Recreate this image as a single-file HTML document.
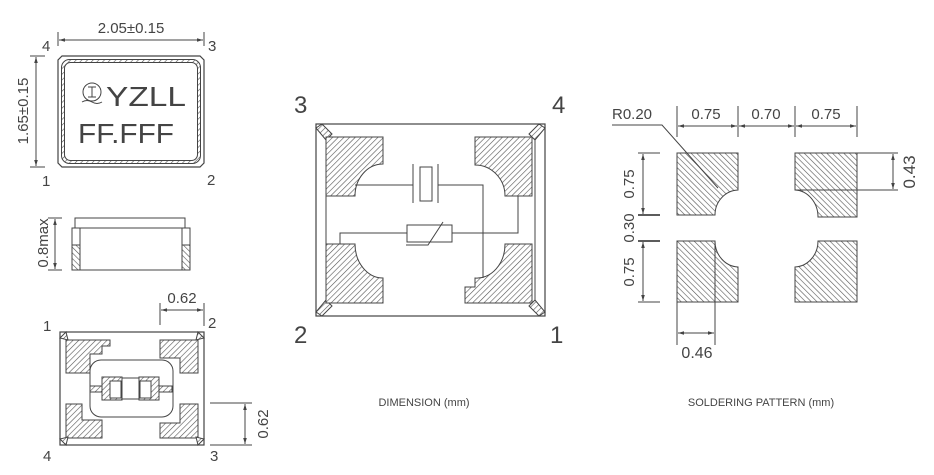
<!DOCTYPE html>
<html><head><meta charset="utf-8"><style>
html,body{margin:0;padding:0;background:#fff;}
svg{display:block;}
text{font-family:"Liberation Sans","DejaVu Sans",sans-serif;fill:#444;}
</style></head><body>
<svg width="934" height="475" viewBox="0 0 934 475" xmlns="http://www.w3.org/2000/svg">
<defs>
<pattern id="h" patternUnits="userSpaceOnUse" width="4" height="4" patternTransform="rotate(45)">
<rect width="4" height="4" fill="#fff"/><line x1="0" y1="0" x2="0" y2="4" stroke="#555" stroke-width="1.2"/></pattern>
<pattern id="h2" patternUnits="userSpaceOnUse" width="4" height="4" patternTransform="rotate(-45)">
<rect width="4" height="4" fill="#fff"/><line x1="0" y1="0" x2="0" y2="4" stroke="#555" stroke-width="1.2"/></pattern>
<marker id="a" viewBox="0 0 10 10" refX="10" refY="5" markerWidth="6" markerHeight="6" orient="auto-start-reverse"><path d="M0,2 L10,5 L0,8" fill="#444"/></marker>
</defs>
<g stroke="#444" stroke-width="1" fill="none">

<!-- TOP VIEW -->
<line x1="58" y1="32" x2="58" y2="46"/><line x1="204" y1="32" x2="204" y2="46"/>
<line x1="59" y1="40" x2="203" y2="40" marker-start="url(#a)" marker-end="url(#a)"/>
<line x1="30" y1="56" x2="45" y2="56"/><line x1="30" y1="167" x2="45" y2="167"/>
<line x1="36" y1="57" x2="36" y2="166" marker-start="url(#a)" marker-end="url(#a)"/>
<path d="M62,56 H200 L204,60 V163 L200,167 H62 L58,163 V60 Z" stroke-width="1.2"/>
<rect x="61.5" y="59.5" width="139" height="104" rx="8" fill="url(#h)" stroke="#444"/>
<rect x="64.5" y="62.5" width="133" height="98" rx="6" fill="#fff"/>
<circle cx="92" cy="92" r="9"/>
<path d="M88,87 H96 M92,87 V97 M88,97 H96 M82,102 Q87,99 92,102 T102,102" />

<!-- SIDE VIEW -->
<line x1="48" y1="218" x2="62" y2="218"/><line x1="48" y1="270" x2="62" y2="270"/>
<line x1="55" y1="219" x2="55" y2="269" marker-start="url(#a)" marker-end="url(#a)"/>
<rect x="75" y="218" width="110" height="10"/>
<rect x="72" y="228" width="118" height="42"/>
<rect x="72" y="245" width="8" height="25" fill="url(#h2)"/>
<rect x="182" y="245" width="8" height="25" fill="url(#h2)"/>
<line x1="80" y1="228" x2="80" y2="270"/><line x1="182" y1="228" x2="182" y2="270"/>

<!-- BOTTOM VIEW -->
<line x1="160" y1="303" x2="160" y2="325"/><line x1="204" y1="303" x2="204" y2="326"/>
<line x1="161" y1="310" x2="203" y2="310" marker-start="url(#a)" marker-end="url(#a)"/>
<line x1="210" y1="403" x2="252" y2="403"/><line x1="210" y1="445" x2="252" y2="445"/>
<line x1="245" y1="404" x2="245" y2="444" marker-start="url(#a)" marker-end="url(#a)"/>
<rect x="60" y="332" width="144" height="113" stroke-width="1.2"/>
<path d="M66,340 H110 V346 H102 V354 H90 V373 H66 Z" fill="url(#h)"/>
<path d="M160,340 H198 V373 H180 V358 H160 Z" fill="url(#h)"/>
<path d="M66,404 H82 V420 H102 V438 H66 Z" fill="url(#h)"/>
<path d="M180,404 H198 V438 H160 V423 H180 Z" fill="url(#h)"/>
<path d="M60,338 L66,332 L68,340 Z M204,338 L198,332 L196,340 Z M60,439 L66,445 L68,437 Z M204,439 L198,445 L196,437 Z" fill="url(#h)"/>
<rect x="90" y="360" width="83" height="57" rx="11"/>
<rect x="102" y="377" width="20" height="23" fill="url(#h)"/>
<rect x="139" y="377" width="20" height="23" fill="url(#h)"/>
<rect x="110" y="381" width="11" height="17" fill="#fff"/>
<rect x="140" y="381" width="11" height="17" fill="#fff"/>
<rect x="90" y="386" width="12" height="6" fill="url(#h)"/>
<rect x="159" y="386" width="13" height="6" fill="url(#h)"/>
<line x1="122" y1="378" x2="139" y2="378"/><line x1="122" y1="399" x2="139" y2="399"/>

<!-- DIMENSION -->
<rect x="316" y="124" width="229" height="192" stroke-width="1.2"/>
<line x1="326" y1="136" x2="326" y2="303"/><line x1="535" y1="136" x2="535" y2="303"/>
<path d="M316,128 L322,124 L332,134 L326,140 Z M545,128 L539,124 L529,134 L535,140 Z M316,312 L322,316 L332,306 L326,300 Z M545,312 L539,316 L529,306 L535,300 Z" fill="url(#h)"/>
<path d="M326,137 H383 V164 A28,32 0 0 0 355,196 H326 Z" fill="url(#h)"/>
<path d="M475,137 H532 V196 H505 A30,31 0 0 0 475,165 Z" fill="url(#h)"/>
<path d="M326,244 H355 A28,34 0 0 0 383,278 V303 H326 Z" fill="url(#h)"/>
<path d="M505,244 H532 V303 H465 V287 H475 V278 A28,34 0 0 0 505,244 Z" fill="url(#h)"/>
<line x1="413" y1="164" x2="413" y2="203"/><line x1="438" y1="164" x2="438" y2="203"/>
<rect x="420" y="167" width="12" height="34"/>
<path d="M355,185 H413 M438,185 H483 V278"/>
<rect x="407" y="225" width="45" height="17"/>
<path d="M340,244 V233 H407 M452,233 H518 V196"/>
<path d="M406,245 H428 L443,222"/>

<!-- SOLDERING -->
<line x1="677" y1="106" x2="677" y2="137"/><line x1="738" y1="106" x2="738" y2="137"/>
<line x1="795" y1="106" x2="795" y2="137"/><line x1="857" y1="106" x2="857" y2="137"/>
<line x1="678" y1="126" x2="737" y2="126" marker-start="url(#a)" marker-end="url(#a)"/>
<line x1="739" y1="126" x2="794" y2="126" marker-start="url(#a)" marker-end="url(#a)"/>
<line x1="796" y1="126" x2="856" y2="126" marker-start="url(#a)" marker-end="url(#a)"/>
<path d="M677,153 H738 V190 A24,25 0 0 0 715,215 H677 Z" fill="url(#h2)"/>
<path d="M795,153 H857 V217 H818 A24,27 0 0 0 795,190 Z" fill="url(#h2)"/>
<path d="M677,241 H715 A24,26 0 0 0 738,267 V302 H677 Z" fill="url(#h2)"/>
<path d="M818,241 H857 V302 H795 V267 A24,26 0 0 0 818,241 Z" fill="url(#h2)"/>
<line x1="715" y1="241" x2="715" y2="345"/><line x1="677" y1="302" x2="677" y2="345"/>
<line x1="678" y1="333" x2="714" y2="333" marker-start="url(#a)" marker-end="url(#a)"/>
<path d="M612,125 H662 L718,188"/>
<line x1="638" y1="153" x2="660" y2="153"/><line x1="638" y1="302" x2="660" y2="302"/>
<line x1="638" y1="215" x2="660" y2="215" stroke-width="1.8"/><line x1="638" y1="241" x2="660" y2="241" stroke-width="1.8"/>
<line x1="643" y1="154" x2="643" y2="214" marker-start="url(#a)" marker-end="url(#a)"/>
<line x1="643" y1="242" x2="643" y2="301" marker-start="url(#a)" marker-end="url(#a)"/>
<line x1="795" y1="190" x2="898" y2="190"/><line x1="857" y1="153" x2="898" y2="153"/>
<line x1="893" y1="154" x2="893" y2="189" marker-start="url(#a)" marker-end="url(#a)"/>
</g>

<g font-size="15">
<text x="131" y="33" text-anchor="middle">2.05±0.15</text>
<text x="42" y="51">4</text><text x="208" y="51">3</text>
<text x="42" y="186">1</text><text x="207" y="185">2</text>
<text transform="translate(28,111) rotate(-90)" text-anchor="middle">1.65±0.15</text>
<text transform="translate(48,243) rotate(-90)" text-anchor="middle">0.8max</text>
<text x="182" y="303" text-anchor="middle">0.62</text>
<text x="43" y="331">1</text><text x="208" y="328">2</text>
<text x="43" y="461">4</text><text x="210" y="461">3</text>
<text transform="translate(268,424) rotate(-90)" text-anchor="middle">0.62</text>
<text x="706" y="119" text-anchor="middle">0.75</text>
<text x="766" y="119" text-anchor="middle">0.70</text>
<text x="826" y="119" text-anchor="middle">0.75</text>
<text x="632" y="119" text-anchor="middle">R0.20</text>
<text transform="translate(634,184) rotate(-90)" text-anchor="middle">0.75</text>
<text transform="translate(634,228) rotate(-90)" text-anchor="middle">0.30</text>
<text transform="translate(634,272) rotate(-90)" text-anchor="middle">0.75</text>
<text transform="translate(915,172) rotate(-90)" text-anchor="middle" font-size="17">0.43</text>
<text x="697" y="358" text-anchor="middle" font-size="16">0.46</text>
</g>
<g font-size="28" fill="#555">
<text x="106" y="106" textLength="80" lengthAdjust="spacingAndGlyphs">YZLL</text>
<text x="78" y="143" textLength="96" lengthAdjust="spacingAndGlyphs">FF.FFF</text>
</g>
<g font-size="24">
<text x="294" y="113">3</text><text x="552" y="113">4</text>
<text x="294" y="343">2</text><text x="550" y="343">1</text>
</g>
<g font-size="11">
<text x="424" y="406" text-anchor="middle">DIMENSION (mm)</text>
<text x="761" y="406" text-anchor="middle">SOLDERING PATTERN (mm)</text>
</g>
</svg>
</body></html>
